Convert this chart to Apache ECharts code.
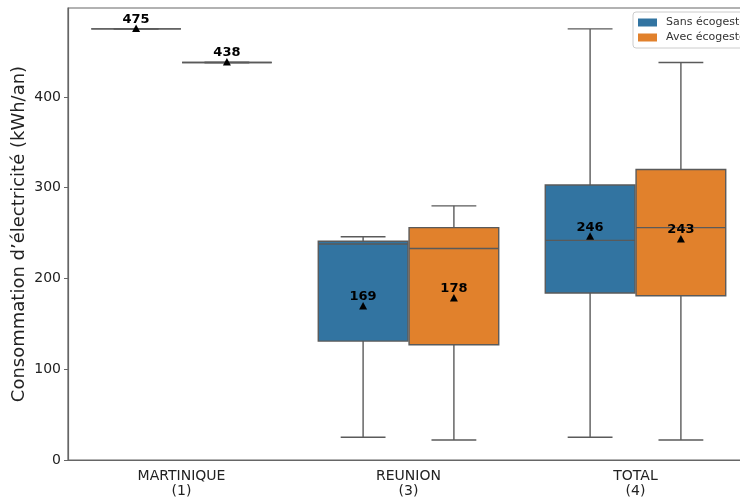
<!DOCTYPE html>
<html>
<head>
<meta charset="utf-8">
<script src="https://cdn.jsdelivr.net/npm/echarts@6/dist/echarts.min.js"></script>
<style>
  html, body { margin: 0; padding: 0; background: #fff; }
  #chart { width: 740px; height: 497px; }
</style>
</head>
<body>
<div id="chart"></div>
<script>
// categories et statistiques (min, q1, médiane, q3, max)
const categories = ['MARTINIQUE\n(1)', 'REUNION\n(3)', 'TOTAL\n(4)']
const sansStats = [
  [475, 475, 475, 475, 475],
  [25, 131, 238, 241, 246],
  [25, 184, 242, 303, 475]
]
const avecStats = [
  [438, 438, 438, 438, 438],
  [22, 127, 233, 256, 280],
  [22, 181, 256, 320, 438]
]
const sansMean = [475, 169, 246]
const avecMean = [438, 178, 243]
const yTicks = [0, 100, 200, 300, 400]

const FONT = 'DejaVu Sans'
const LINE = '#5a5a5a'

const toData = (stats, means) => stats.map((s, i) => [i, ...s, means[i]])

function boxRenderer(offset, color) {
  return function (params, api) {
    const cat = api.value(0)
    const band = api.size([1, 0])[0]
    const w = band * 0.395
    const cx = api.coord([cat, 0])[0] + offset * band
    const y = v => api.coord([cat, v])[1]
    const yMin = y(api.value(1))
    const yQ1 = y(api.value(2))
    const yMed = y(api.value(3))
    const yQ3 = y(api.value(4))
    const yMax = y(api.value(5))
    const mean = api.value(6)
    const yMean = y(mean)
    const ls = { stroke: LINE, lineWidth: 1.4 }
    return {
      type: 'group',
      children: [
        { type: 'line', shape: { x1: cx, y1: yMin, x2: cx, y2: yQ1 }, style: ls },
        { type: 'line', shape: { x1: cx, y1: yQ3, x2: cx, y2: yMax }, style: ls },
        { type: 'line', shape: { x1: cx - w / 4, y1: yMin, x2: cx + w / 4, y2: yMin }, style: ls },
        { type: 'line', shape: { x1: cx - w / 4, y1: yMax, x2: cx + w / 4, y2: yMax }, style: ls },
        {
          type: 'rect',
          shape: { x: cx - w / 2, y: yQ3, width: w, height: yQ1 - yQ3 },
          style: { fill: color, stroke: LINE, lineWidth: 1.4 }
        },
        { type: 'line', shape: { x1: cx - w / 2, y1: yMed, x2: cx + w / 2, y2: yMed }, style: ls },
        {
          type: 'polygon',
          shape: { points: [[cx, yMean - 4.5], [cx - 4, yMean + 3], [cx + 4, yMean + 3]] },
          style: { fill: '#000' }
        },
        {
          type: 'text',
          style: {
            x: cx, y: yMean - 3,
            text: String(mean),
            align: 'center', verticalAlign: 'bottom',
            font: 'bold 13px ' + FONT,
            fill: '#000'
          }
        }
      ]
    }
  }
}

const chart = echarts.init(document.getElementById('chart'))
chart.setOption({
  animation: false,
  textStyle: { fontFamily: FONT },
  grid: {
    left: 68, top: 8, width: 681, bottom: 37,
    outerBoundsMode: 'none',
    containLabel: false,
    show: true, borderColor: '#666', borderWidth: 1.2
  },
  legend: {
    data: ['Sans écogeste', 'Avec écogeste'],
    orient: 'vertical',
    left: 633, top: 12,
    icon: 'rect', itemWidth: 19, itemHeight: 8, itemGap: 4,
    padding: [5, 5],
    borderColor: '#ccc', borderWidth: 1, borderRadius: 3,
    backgroundColor: '#fff',
    textStyle: { fontSize: 11, color: '#333', fontFamily: FONT, padding: [0, 0, 0, 4] }
  },
  xAxis: {
    type: 'category',
    data: categories,
    axisLine: { show: true, lineStyle: { color: '#666', width: 1.2 } },
    axisTick: { alignWithLabel: true, length: 4, lineStyle: { color: '#666' } },
    axisLabel: { fontSize: 14, color: '#222', lineHeight: 15, margin: 9 }
  },
  yAxis: {
    type: 'value',
    min: 0, max: 498,
    name: 'Consommation d’électricité (kWh/an)',
    nameLocation: 'middle',
    nameGap: 40,
    nameMoveOverlap: false,
    nameTextStyle: { fontSize: 18, color: '#222' },
    splitLine: { show: false },
    axisLine: { show: true, lineStyle: { color: '#666', width: 1.2 } },
    axisTick: { show: true, length: 4, customValues: yTicks, lineStyle: { color: '#666' } },
    axisLabel: { fontSize: 14, color: '#222', margin: 7, customValues: yTicks }
  },
  series: [
    {
      name: 'Sans écogeste',
      type: 'custom',
      itemStyle: { color: '#3274a1' },
      renderItem: boxRenderer(-0.2, '#3274a1'),
      encode: { x: 0, y: [1, 2, 3, 4, 5] },
      data: toData(sansStats, sansMean)
    },
    {
      name: 'Avec écogeste',
      type: 'custom',
      itemStyle: { color: '#e1812c' },
      renderItem: boxRenderer(0.2, '#e1812c'),
      encode: { x: 0, y: [1, 2, 3, 4, 5] },
      data: toData(avecStats, avecMean)
    }
  ]
})
</script>
</body>
</html>
